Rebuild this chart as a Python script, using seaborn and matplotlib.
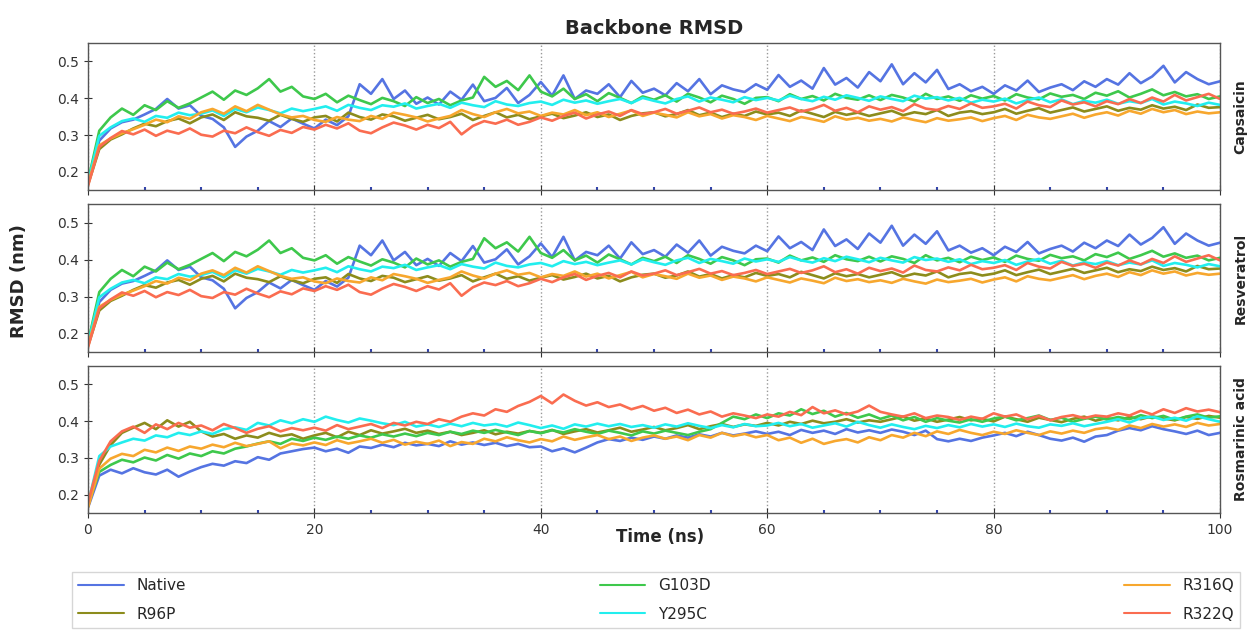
import numpy as np
import pandas as pd
import matplotlib
matplotlib.use("Agg")
import matplotlib.pyplot as plt
from matplotlib.ticker import MultipleLocator
import seaborn as sns

# time axis (ns), one reading per ns
time_ns = list(range(0, 101))

systems = ["Native", "R96P", "G103D", "Y295C", "R316Q", "R322Q"]
ligands = ["Capsaicin", "Resveratrol", "Rosmarinic acid"]

# --- Capsaicin / Resveratrol (the two panels look the same in the figure) ---
native_c = [0.170, 0.285, 0.318, 0.335, 0.342, 0.356, 0.371, 0.398, 0.372, 0.381,
            0.352, 0.344, 0.321, 0.268, 0.296, 0.312, 0.338, 0.322, 0.345, 0.331,
            0.318, 0.342, 0.327, 0.351, 0.438, 0.412, 0.452, 0.398, 0.421, 0.385,
            0.402, 0.383, 0.418, 0.396, 0.437, 0.392, 0.401, 0.428, 0.387, 0.409,
            0.444, 0.407, 0.462, 0.398, 0.421, 0.412, 0.438, 0.403, 0.447, 0.415,
            0.426, 0.408, 0.441, 0.419, 0.452, 0.411, 0.435, 0.424, 0.417, 0.438,
            0.423, 0.463, 0.431, 0.448, 0.426, 0.482, 0.437, 0.455, 0.429, 0.471,
            0.446, 0.492, 0.438, 0.468, 0.443, 0.477, 0.425, 0.438, 0.419, 0.431,
            0.412, 0.435, 0.421, 0.448, 0.417, 0.429, 0.438, 0.422, 0.446, 0.431,
            0.452, 0.437, 0.468, 0.441, 0.459, 0.488, 0.443, 0.471, 0.452, 0.438,
            0.446]
r96p_c = [0.165, 0.262, 0.288, 0.302, 0.318, 0.331, 0.324, 0.338, 0.345, 0.332,
          0.348, 0.356, 0.341, 0.362, 0.351, 0.347, 0.339, 0.355, 0.344, 0.336,
          0.348, 0.352, 0.337, 0.361, 0.349, 0.342, 0.356, 0.351, 0.339, 0.347,
          0.355, 0.343, 0.349, 0.358, 0.341, 0.352, 0.362, 0.348, 0.355, 0.343,
          0.351, 0.358, 0.346, 0.353, 0.362, 0.349, 0.356, 0.341, 0.352, 0.359,
          0.362, 0.351, 0.357, 0.368, 0.354, 0.361, 0.349, 0.358, 0.352, 0.364,
          0.356, 0.361, 0.352, 0.367, 0.358, 0.349, 0.363, 0.355, 0.361, 0.352,
          0.359, 0.366, 0.354, 0.362, 0.357, 0.368, 0.352, 0.361, 0.365, 0.357,
          0.362, 0.371, 0.358, 0.366, 0.373, 0.361, 0.368, 0.375, 0.364, 0.371,
          0.378, 0.366, 0.374, 0.369, 0.381, 0.372, 0.377, 0.368, 0.383, 0.374,
          0.376]
g103d_c = [0.175, 0.312, 0.348, 0.372, 0.355, 0.381, 0.368, 0.392, 0.374, 0.386,
           0.402, 0.418, 0.396, 0.421, 0.409, 0.427, 0.452, 0.418, 0.431, 0.405,
           0.398, 0.412, 0.389, 0.407, 0.395, 0.384, 0.401, 0.392, 0.379, 0.403,
           0.387, 0.398, 0.381, 0.394, 0.402, 0.458, 0.431, 0.447, 0.422, 0.462,
           0.418, 0.405, 0.426, 0.398, 0.411, 0.392, 0.414, 0.401, 0.387, 0.405,
           0.396, 0.408, 0.391, 0.412, 0.402, 0.389, 0.407, 0.398, 0.385, 0.401,
           0.403, 0.392, 0.411, 0.398, 0.406, 0.394, 0.412, 0.401, 0.396, 0.408,
           0.395, 0.409, 0.402, 0.391, 0.412, 0.398, 0.405, 0.393, 0.408, 0.399,
           0.406, 0.394, 0.411, 0.402, 0.397, 0.413, 0.404, 0.409, 0.398, 0.415,
           0.407, 0.419, 0.402, 0.412, 0.424, 0.408, 0.417, 0.405, 0.411, 0.398,
           0.405]
y295c_c = [0.172, 0.298, 0.321, 0.338, 0.345, 0.336, 0.352, 0.347, 0.361, 0.354,
           0.358, 0.367, 0.352, 0.371, 0.362, 0.375, 0.368, 0.359, 0.372, 0.365,
           0.371, 0.378, 0.366, 0.382, 0.374, 0.368, 0.381, 0.377, 0.386, 0.372,
           0.379, 0.385, 0.374, 0.388, 0.381, 0.376, 0.392, 0.383, 0.379, 0.387,
           0.391, 0.382, 0.396, 0.388, 0.394, 0.385, 0.392, 0.398, 0.387, 0.401,
           0.393, 0.386, 0.398, 0.405, 0.391, 0.402, 0.396, 0.389, 0.403, 0.395,
           0.401, 0.394, 0.407, 0.398, 0.392, 0.404, 0.396, 0.408, 0.401, 0.393,
           0.405, 0.398, 0.392, 0.407, 0.399, 0.403, 0.394, 0.401, 0.388, 0.396,
           0.391, 0.399, 0.386, 0.395, 0.402, 0.389, 0.397, 0.384, 0.393, 0.388,
           0.396, 0.385, 0.392, 0.387, 0.398, 0.383, 0.391, 0.386, 0.379, 0.388,
           0.382]
r316q_c = [0.168, 0.272, 0.291, 0.305, 0.316, 0.328, 0.342, 0.335, 0.351, 0.344,
           0.362, 0.371, 0.358, 0.378, 0.365, 0.382, 0.369, 0.356, 0.348, 0.352,
           0.341, 0.336, 0.349, 0.342, 0.338, 0.352, 0.344, 0.361, 0.355, 0.348,
           0.337, 0.345, 0.352, 0.368, 0.357, 0.349, 0.362, 0.371, 0.359, 0.364,
           0.352, 0.361, 0.356, 0.368, 0.354, 0.362, 0.349, 0.358, 0.367, 0.352,
           0.361, 0.355, 0.348, 0.362, 0.351, 0.357, 0.345, 0.354, 0.349, 0.341,
           0.352, 0.345, 0.338, 0.349, 0.343, 0.336, 0.351, 0.342, 0.347, 0.339,
           0.344, 0.337, 0.348, 0.341, 0.335, 0.346, 0.339, 0.343, 0.348, 0.338,
           0.346, 0.352, 0.341, 0.355, 0.348, 0.344, 0.351, 0.358, 0.347, 0.356,
           0.362, 0.353, 0.366, 0.358, 0.371, 0.362, 0.368, 0.357, 0.364, 0.359,
           0.362]
r322q_c = [0.162, 0.268, 0.292, 0.311, 0.302, 0.315, 0.298, 0.312, 0.304, 0.318,
           0.301, 0.296, 0.312, 0.305, 0.321, 0.308, 0.298, 0.314, 0.306, 0.322,
           0.315, 0.328, 0.318, 0.332, 0.312, 0.305, 0.321, 0.334, 0.326, 0.315,
           0.328, 0.319, 0.336, 0.302, 0.325, 0.338, 0.331, 0.342, 0.328, 0.336,
           0.348, 0.339, 0.352, 0.361, 0.345, 0.356, 0.364, 0.352, 0.368, 0.357,
           0.362, 0.371, 0.358, 0.366, 0.375, 0.362, 0.369, 0.358, 0.364, 0.372,
           0.361, 0.368, 0.375, 0.364, 0.371, 0.382, 0.366, 0.374, 0.362, 0.378,
           0.369, 0.376, 0.365, 0.384, 0.372, 0.368, 0.379, 0.371, 0.386, 0.374,
           0.378, 0.385, 0.372, 0.391, 0.381, 0.376, 0.394, 0.383, 0.389, 0.378,
           0.392, 0.384, 0.398, 0.387, 0.402, 0.391, 0.409, 0.394, 0.403, 0.412,
           0.398]

# --- Rosmarinic acid ---
native_r = [0.165, 0.252, 0.268, 0.258, 0.272, 0.261, 0.255, 0.268, 0.249, 0.263,
            0.275, 0.284, 0.279, 0.291, 0.286, 0.302, 0.295, 0.312, 0.318, 0.324,
            0.328, 0.318, 0.325, 0.314, 0.331, 0.327, 0.336, 0.329, 0.341, 0.334,
            0.338, 0.332, 0.345, 0.336, 0.342, 0.335, 0.341, 0.332, 0.338, 0.329,
            0.331, 0.318, 0.326, 0.315, 0.328, 0.342, 0.351, 0.346, 0.355, 0.349,
            0.358, 0.352, 0.361, 0.355, 0.364, 0.358, 0.368, 0.361, 0.366, 0.372,
            0.365, 0.371, 0.362, 0.376, 0.368, 0.374, 0.365, 0.378, 0.369, 0.375,
            0.368, 0.377, 0.371, 0.362, 0.374, 0.351, 0.345, 0.352, 0.346, 0.355,
            0.361, 0.368, 0.359, 0.371, 0.362, 0.352, 0.347, 0.355, 0.344, 0.358,
            0.362, 0.374, 0.381, 0.375, 0.386, 0.378, 0.372, 0.365, 0.374, 0.362,
            0.368]
r96p_r = [0.168, 0.282, 0.335, 0.368, 0.382, 0.395, 0.378, 0.402, 0.385, 0.398,
          0.372, 0.358, 0.365, 0.352, 0.361, 0.355, 0.368, 0.359, 0.364, 0.352,
          0.361, 0.368, 0.356, 0.371, 0.362, 0.375, 0.366, 0.372, 0.379, 0.368,
          0.374, 0.365, 0.371, 0.362, 0.368, 0.375, 0.364, 0.371, 0.366, 0.373,
          0.368, 0.376, 0.365, 0.372, 0.378, 0.369, 0.375, 0.382, 0.371, 0.377,
          0.384, 0.375, 0.381, 0.389, 0.378, 0.386, 0.392, 0.384, 0.391, 0.387,
          0.395, 0.388, 0.398, 0.392, 0.401, 0.394, 0.398, 0.405, 0.396, 0.402,
          0.398, 0.405, 0.412, 0.401, 0.407, 0.398, 0.404, 0.411, 0.402, 0.406,
          0.399, 0.412, 0.405, 0.398, 0.409, 0.403, 0.397, 0.406, 0.412, 0.401,
          0.408, 0.402, 0.411, 0.405, 0.413, 0.407, 0.402, 0.411, 0.406, 0.414,
          0.409]
g103d_r = [0.172, 0.262, 0.281, 0.295, 0.288, 0.301, 0.293, 0.308, 0.298, 0.312,
           0.305, 0.318, 0.312, 0.325, 0.331, 0.339, 0.345, 0.338, 0.352, 0.346,
           0.355, 0.349, 0.358, 0.352, 0.361, 0.355, 0.364, 0.358, 0.366, 0.359,
           0.368, 0.362, 0.371, 0.365, 0.374, 0.368, 0.376, 0.369, 0.362, 0.373,
           0.367, 0.375, 0.369, 0.378, 0.371, 0.365, 0.374, 0.368, 0.361, 0.372,
           0.366, 0.374, 0.368, 0.362, 0.371, 0.378, 0.395, 0.412, 0.405, 0.418,
           0.408, 0.421, 0.415, 0.432, 0.419, 0.428, 0.412, 0.422, 0.409, 0.418,
           0.406, 0.415, 0.402, 0.411, 0.398, 0.408, 0.401, 0.396, 0.405, 0.398,
           0.407, 0.412, 0.402, 0.408, 0.415, 0.403, 0.409, 0.398, 0.406, 0.412,
           0.404, 0.411, 0.405, 0.416, 0.408, 0.414, 0.403, 0.412, 0.418, 0.409,
           0.413]
y295c_r = [0.175, 0.305, 0.331, 0.342, 0.352, 0.347, 0.361, 0.356, 0.368, 0.362,
           0.372, 0.365, 0.378, 0.383, 0.376, 0.395, 0.388, 0.402, 0.394, 0.405,
           0.398, 0.412, 0.403, 0.396, 0.407, 0.401, 0.394, 0.389, 0.398, 0.385,
           0.391, 0.384, 0.393, 0.386, 0.395, 0.388, 0.392, 0.385, 0.396, 0.389,
           0.381, 0.388, 0.379, 0.391, 0.385, 0.393, 0.386, 0.392, 0.384, 0.389,
           0.382, 0.391, 0.385, 0.394, 0.387, 0.381, 0.389, 0.383, 0.392, 0.386,
           0.388, 0.395, 0.386, 0.392, 0.382, 0.388, 0.394, 0.385, 0.398, 0.389,
           0.382, 0.391, 0.384, 0.378, 0.387, 0.381, 0.389, 0.383, 0.392, 0.385,
           0.391, 0.384, 0.393, 0.386, 0.382, 0.391, 0.387, 0.394, 0.386, 0.392,
           0.398, 0.405, 0.396, 0.408, 0.412, 0.403, 0.409, 0.401, 0.413, 0.405,
           0.398]
r316q_r = [0.165, 0.271, 0.298, 0.311, 0.305, 0.322, 0.315, 0.328, 0.319, 0.331,
           0.325, 0.336, 0.329, 0.341, 0.332, 0.338, 0.345, 0.326, 0.339, 0.334,
           0.342, 0.335, 0.348, 0.339, 0.345, 0.352, 0.341, 0.349, 0.336, 0.344,
           0.338, 0.347, 0.332, 0.343, 0.338, 0.352, 0.345, 0.356, 0.348, 0.342,
           0.351, 0.345, 0.358, 0.349, 0.356, 0.362, 0.351, 0.358, 0.346, 0.355,
           0.361, 0.352, 0.358, 0.348, 0.362, 0.355, 0.368, 0.359, 0.365, 0.356,
           0.362, 0.348, 0.355, 0.341, 0.352, 0.338, 0.346, 0.351, 0.342, 0.356,
           0.348, 0.362, 0.355, 0.368, 0.359, 0.372, 0.365, 0.376, 0.368, 0.362,
           0.371, 0.365, 0.375, 0.368, 0.362, 0.372, 0.366, 0.374, 0.368, 0.378,
           0.382, 0.376, 0.388, 0.381, 0.392, 0.385, 0.391, 0.384, 0.395, 0.388,
           0.392]
r322q_r = [0.178, 0.292, 0.345, 0.372, 0.385, 0.368, 0.391, 0.378, 0.395, 0.382,
           0.388, 0.375, 0.392, 0.381, 0.368, 0.379, 0.386, 0.372, 0.381, 0.375,
           0.382, 0.374, 0.389, 0.378, 0.385, 0.392, 0.381, 0.395, 0.388, 0.398,
           0.392, 0.405, 0.398, 0.412, 0.421, 0.415, 0.432, 0.425, 0.441, 0.452,
           0.468, 0.448, 0.472, 0.455, 0.442, 0.451, 0.438, 0.445, 0.432, 0.441,
           0.428, 0.436, 0.422, 0.431, 0.418, 0.426, 0.412, 0.421, 0.415, 0.408,
           0.418, 0.412, 0.425, 0.416, 0.438, 0.421, 0.429, 0.418, 0.426, 0.442,
           0.425, 0.418, 0.412, 0.421, 0.408, 0.415, 0.411, 0.403, 0.412, 0.406,
           0.421, 0.412, 0.418, 0.405, 0.414, 0.402, 0.411, 0.416, 0.408, 0.415,
           0.412, 0.421, 0.415, 0.428, 0.418, 0.432, 0.422, 0.435, 0.426, 0.431,
           0.424]

caps = [native_c, r96p_c, g103d_c, y295c_c, r316q_c, r322q_c]
rosm = [native_r, r96p_r, g103d_r, y295c_r, r316q_r, r322q_r]
panel_data = {"Capsaicin": caps, "Resveratrol": caps, "Rosmarinic acid": rosm}

colors = {"Native": "#5574e2", "R96P": "#8c8c1c", "G103D": "#3ec84c",
          "Y295C": "#22eeee", "R316Q": "#f7a72e", "R322Q": "#fa6c50"}

# long table
rows = []
for lig in ligands:
    for name, vals in zip(systems, panel_data[lig]):
        for t, v in zip(time_ns, vals):
            rows.append((lig, name, t, v))
df = pd.DataFrame(rows, columns=["Ligand", "System", "Time", "RMSD"])

sns.set_style("white")
fig, axes = plt.subplots(3, 1, figsize=(12.48, 6.32), dpi=100, sharex=True)
fig.subplots_adjust(left=0.0705, right=0.9776, top=0.932, bottom=0.188, hspace=0.095)

for ax, lig in zip(axes, ligands):
    sns.lineplot(data=df[df["Ligand"] == lig], x="Time", y="RMSD", hue="System",
                 hue_order=systems, palette=colors, estimator=None, linewidth=1.9,
                 legend=False, ax=ax)
    ax.set_xlim(0, 100)
    ax.set_ylim(0.15, 0.55)
    ax.set_yticks([0.2, 0.3, 0.4, 0.5])
    ax.xaxis.set_major_locator(MultipleLocator(20))
    ax.xaxis.set_minor_locator(MultipleLocator(5))
    ax.grid(axis="x", which="major", linestyle=":", color="#999999", linewidth=1)
    ax.set_xlabel("")
    ax.set_ylabel("")
    for sp in ax.spines.values():
        sp.set_color("#555555")
        sp.set_linewidth(1.0)
    ax.tick_params(axis="y", direction="inout", length=6, labelsize=10,
                   colors="#333333", left=True)
    ax.tick_params(axis="x", which="major", direction="inout", length=7,
                   labelsize=10, colors="#333333", bottom=True)
    ax.tick_params(axis="x", which="minor", direction="in", length=2, width=1.5,
                   color="#3344aa", bottom=True)
    ax.text(1.012, 0.5, lig, transform=ax.transAxes, rotation=90, va="center",
            ha="left", fontsize=10, fontweight="bold")

fig.text(0.524, 0.955, "Backbone RMSD", ha="center", va="center",
         fontsize=14, fontweight="bold")
fig.text(0.015, 0.555, "RMSD (nm)", rotation=90, ha="center", va="center",
         fontsize=13, fontweight="bold")
fig.text(0.529, 1 - 537 / 632, "Time (ns)", ha="center", va="center",
         fontsize=12, fontweight="bold")

handles = [plt.Line2D([], [], color=colors[s], linewidth=1.5) for s in systems]
leg = fig.legend(handles, systems, ncol=3,
                 loc="upper left", bbox_to_anchor=(0.0577, 0.0, 0.936, 0.095),
                 mode="expand", fontsize=11, frameon=True, fancybox=False,
                 edgecolor="#cccccc", handlelength=3.0, handletextpad=0.8,
                 labelspacing=0.9, borderaxespad=0)

fig.savefig("out.png", dpi=100)
